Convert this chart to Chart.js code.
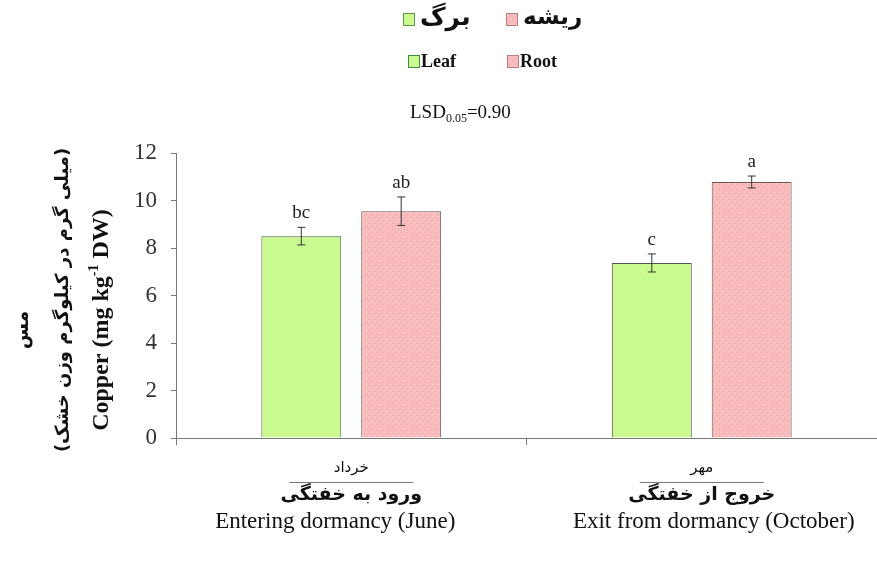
<!DOCTYPE html>
<html>
<head>
<meta charset="utf-8">
<script src="https://cdn.jsdelivr.net/npm/chart.js@4/dist/chart.umd.min.js"></script>
<style>
  body { margin: 0; background: #fff; }
  #wrap { width: 877px; height: 566px; }
</style>
</head>
<body>
<div id="wrap"><canvas id="chart" width="877" height="566"></canvas></div>
<script>
// data
const categories = ['Entering dormancy (June)', 'Exit from dormancy (October)'];
const monthsFa = ['خرداد', 'مهر'];
const stagesFa = ['ورود به خفتگی', 'خروج از خفتگی'];
const leafValues = [8.5, 7.37];
const rootValues = [9.55, 10.78];
const leafErrors = [0.37, 0.38];
const rootErrors = [0.6, 0.25];
const leafLetters = ['bc', 'c'];
const rootLetters = ['ab', 'a'];
const lsdText = ['LSD', '0.05', '=0.90'];

const SERIF = '"Liberation Serif", "Times New Roman", serif';
const FA = '"DejaVu Sans", sans-serif';

// dotted pink fill
function makePinkPattern() {
    const p = document.createElement('canvas');
    p.width = 6; p.height = 6;
    const g = p.getContext('2d');
    g.fillStyle = '#f8babb';
    g.fillRect(0, 0, 6, 6);
    g.fillStyle = '#fbd8d8';
    g.fillRect(0, 0, 1, 1);
    g.fillRect(3, 3, 1, 1);
    g.fillStyle = '#e7a3a5';
    g.fillRect(2, 1, 1, 1);
    g.fillRect(5, 4, 1, 1);
    return document.getElementById('chart').getContext('2d').createPattern(p, 'repeat');
}
const pinkFill = makePinkPattern();
const greenFill = '#c9f98f';

const errorBars = {
    id: 'errorBars',
    afterDatasetsDraw(chart) {
        const ctx = chart.ctx;
        const y = chart.scales.y;
        const sets = [
            { vals: leafValues, errs: leafErrors, letters: leafLetters },
            { vals: rootValues, errs: rootErrors, letters: rootLetters }
        ];
        ctx.save();
        sets.forEach((s, di) => {
            chart.getDatasetMeta(di).data.forEach((bar, i) => {
                const top = y.getPixelForValue(s.vals[i] + s.errs[i]);
                const bot = y.getPixelForValue(s.vals[i] - s.errs[i]);
                ctx.strokeStyle = '#333';
                ctx.lineWidth = 1;
                ctx.beginPath();
                ctx.moveTo(bar.x, top); ctx.lineTo(bar.x, bot);
                ctx.moveTo(bar.x - 4, top); ctx.lineTo(bar.x + 4, top);
                ctx.moveTo(bar.x - 4, bot); ctx.lineTo(bar.x + 4, bot);
                ctx.stroke();
                ctx.fillStyle = '#222';
                ctx.font = '19px ' + SERIF;
                ctx.textAlign = 'center';
                ctx.textBaseline = 'alphabetic';
                ctx.fillText(s.letters[i], bar.x, top - 9);
            });
        });
        ctx.restore();
    }
};

const extraText = {
    id: 'extraText',
    afterDraw(chart) {
        const ctx = chart.ctx;
        const x = chart.scales.x;
        ctx.save();
        ctx.fillStyle = '#111';

        // legend
        function swatch(px, py, fill, border) {
            ctx.fillStyle = fill;
            ctx.fillRect(px, py, 11, 12);
            ctx.strokeStyle = border;
            ctx.lineWidth = 1;
            ctx.strokeRect(px + 0.5, py + 0.5, 11, 12);
        }
        swatch(403, 13, greenFill, '#5a9a4a');
        swatch(506, 13, pinkFill, '#c07a80');
        swatch(408, 55, greenFill, '#3f8a3f');
        swatch(507, 55, pinkFill, '#c07a80');
        ctx.fillStyle = '#111';
        ctx.textBaseline = 'middle';
        ctx.font = 'bold 25px ' + FA;
        ctx.direction = 'rtl';
        ctx.textAlign = 'left';
        ctx.fillText('برگ', 420, 18);
        ctx.font = 'bold 23px ' + FA;
        ctx.fillText('ریشه', 523, 18);
        ctx.direction = 'ltr';
        ctx.textAlign = 'left';
        ctx.font = 'bold 18px ' + SERIF;
        ctx.fillText('Leaf', 421, 62);
        ctx.fillText('Root', 520, 62);

        // LSD
        ctx.textBaseline = 'alphabetic';
        ctx.font = '19px ' + SERIF;
        let lx = 410;
        ctx.fillText(lsdText[0], lx, 118);
        lx += ctx.measureText(lsdText[0]).width;
        ctx.font = '12px ' + SERIF;
        ctx.fillText(lsdText[1], lx, 122);
        lx += ctx.measureText(lsdText[1]).width;
        ctx.font = '19px ' + SERIF;
        ctx.fillText(lsdText[2], lx, 118);

        // x labels
        categories.forEach((cat, i) => {
            const cx = x.getPixelForValue(i);
            ctx.textAlign = 'center';
            ctx.textBaseline = 'middle';
            ctx.direction = 'rtl';
            ctx.font = '15px ' + FA;
            ctx.fillText(monthsFa[i], cx, 468);
            ctx.font = 'bold 19px ' + FA;
            ctx.fillText(stagesFa[i], cx, 495);
            ctx.direction = 'ltr';
            ctx.strokeStyle = '#777';
            ctx.lineWidth = 1;
            ctx.beginPath();
            ctx.moveTo(cx - 62, 482.5); ctx.lineTo(cx + 62, 482.5);
            ctx.stroke();
            ctx.font = '23px ' + SERIF;
            ctx.fillText(cat, cx + (i === 0 ? -16 : 12), 522);
        });

        // y title
        ctx.rotate(-Math.PI / 2);
        ctx.textBaseline = 'middle';
        ctx.textAlign = 'center';
        ctx.direction = 'rtl';
        ctx.font = 'bold 19px ' + FA;
        ctx.fillText('مس', -330, 23);
        ctx.font = 'bold 18px ' + FA;
        ctx.fillText('(میلی گرم در کیلوگرم وزن خشک)', -300, 63);
        ctx.direction = 'ltr';
        ctx.textAlign = 'left';
        const p1 = 'Copper (mg kg', p2 = '-1', p3 = ' DW)';
        ctx.font = 'bold 24px ' + SERIF;
        const w1 = ctx.measureText(p1).width, w3 = ctx.measureText(p3).width;
        ctx.font = 'bold 14px ' + SERIF;
        const w2 = ctx.measureText(p2).width;
        let ty = -320 - (w1 + w2 + w3) / 2;
        ctx.font = 'bold 24px ' + SERIF;
        ctx.fillText(p1, ty, 102);
        ty += w1;
        ctx.font = 'bold 14px ' + SERIF;
        ctx.fillText(p2, ty, 94);
        ty += w2;
        ctx.font = 'bold 24px ' + SERIF;
        ctx.fillText(p3, ty, 102);
        ctx.restore();
    }
};

new Chart(document.getElementById('chart'), {
    type: 'bar',
    data: {
        labels: categories,
        datasets: [
            { label: 'Leaf', data: leafValues, backgroundColor: greenFill, borderColor: '#4b5a48', borderWidth: 1 },
            { label: 'Root', data: rootValues, backgroundColor: pinkFill, borderColor: '#6e5356', borderWidth: 1 }
        ]
    },
    options: {
        responsive: false,
        animation: false,
        devicePixelRatio: 1,
        categoryPercentage: 0.57,
        barPercentage: 0.8,
        layout: { padding: { top: 153, right: 0, left: 0, bottom: 0 } },
        plugins: { legend: { display: false }, tooltip: { enabled: false } },
        scales: {
            x: {
                ticks: { display: false },
                grid: { drawOnChartArea: false, tickLength: 7, color: '#777', offset: true },
                border: { color: '#777' },
                afterFit(scale) { scale.height = 128; }
            },
            y: {
                min: 0,
                max: 12,
                ticks: { stepSize: 2, color: '#333', font: { family: SERIF, size: 23 }, padding: 14 },
                grid: { drawOnChartArea: false, tickLength: 5, color: '#777' },
                border: { color: '#777' },
                afterFit(scale) { scale.width = 176; }
            }
        }
    },
    plugins: [errorBars, extraText]
});
</script>
</body>
</html>
